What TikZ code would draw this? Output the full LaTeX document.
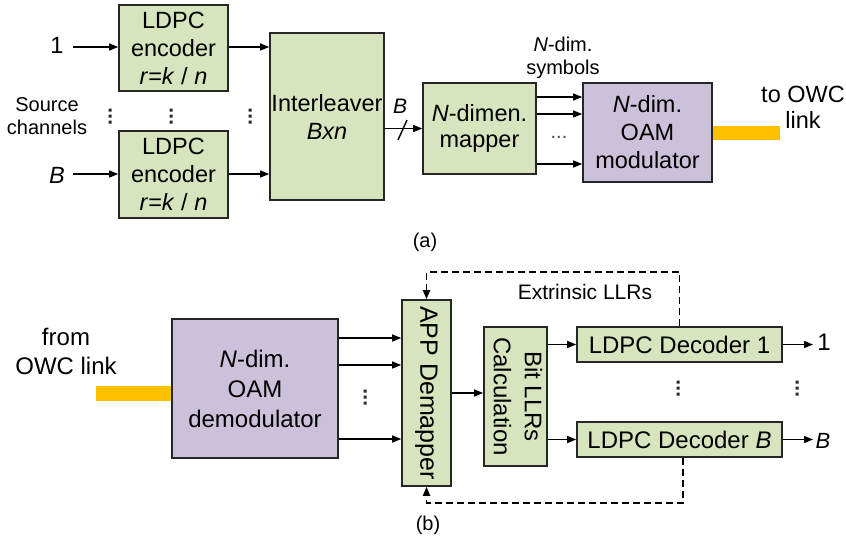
\documentclass[tikz,border=0pt]{standalone}
\usepackage{fontspec}
\setmainfont{Liberation Sans}
\usepackage{graphicx}
\usetikzlibrary{arrows.meta}
\definecolor{boxgreen}{HTML}{D7E4BD}
\definecolor{boxpurple}{HTML}{CCC1DA}
\definecolor{owc}{HTML}{FFC000}
\tikzset{
  box/.style={draw=black!85, line width=1.6pt, fill=boxgreen, inner sep=0pt, align=center, font=\fontsize{23.5}{28}\selectfont},
  pbox/.style={box, fill=boxpurple},
  arr/.style={-{Triangle[length=9pt,width=7pt]}, line width=1.4pt},
  darr/.style={-{Triangle[length=9pt,width=7pt]}, line width=1.8pt, dash pattern=on 7pt off 4pt},
  lbl/.style={inner sep=0pt, align=center, font=\fontsize{23.5}{28}\selectfont},
  small/.style={inner sep=0pt, align=center, font=\fontsize{20}{23}\selectfont},
  dotsnode/.style={inner sep=0pt, font=\fontsize{20}{23}\selectfont},
  bar/.style={fill=owc, inner sep=0pt, draw=none},
  vdotspic/.pic={\fill[black!85] (-1.5,-7.5) rectangle (1.5,-4.5) (-1.5,-1.5) rectangle (1.5,1.5) (-1.5,4.5) rectangle (1.5,7.5);}
}
\begin{document}
\begin{tikzpicture}[x=1pt,y=-1pt]
\useasboundingbox (0,0) rectangle (846,542);
% ---------- (a) transmitter ----------
\node[box, minimum width=109pt, minimum height=86pt] (enc1) at (173.5,48) {LDPC\\encoder\\\textit{r}=\textit{k} / \textit{n}};
\node[box, minimum width=109pt, minimum height=87pt] (encB) at (173.5,174.5) {LDPC\\encoder\\\textit{r}=\textit{k} / \textit{n}};
\node[box, minimum width=114pt, minimum height=167pt] (inter) at (327,116.5) {Interleaver\\\textit{Bxn}};
\node[box, minimum width=113pt, minimum height=91pt, font=\fontsize{23.5}{26}\selectfont] (mapper) at (479.5,128.5) {\textit{N}-dimen.\\mapper};
\node[pbox, minimum width=129pt, minimum height=99pt] (mod) at (647.5,132.5) {\textit{N}-dim.\\OAM\\modulator};

\node[lbl] (src1) at (57,45) {1};
\node[lbl] (srcB) at (57,175) {\textit{B}};
\coordinate (in1) at (73,47);
\coordinate (inB) at (73,174);
\draw[arr] (in1) -- (enc1.west |- in1);
\draw[arr] (inB) -- (encB.west |- inB);
\node[small] (srclbl) at (47,116) {Source\\channels};
\pic at (110,116) {vdotspic};
\pic at (171,116) {vdotspic};
\pic at (250,116) {vdotspic};

\draw[arr] (enc1.east |- in1) -- (inter.west |- in1);
\draw[arr] (encB.east |- inB) -- (inter.west |- inB);

\draw[arr] (inter.east |- mapper.west) -- (mapper.west);
\coordinate (sl) at (402.5,130);
\draw[line width=1.4pt] ([shift={(-4.5,10)}]sl) -- ([shift={(4.5,-10)}]sl);
\node[inner sep=0pt, font=\fontsize{21}{24}\selectfont] (busB) at (400,106) {\textit{B}};

\draw[arr] (mapper.east |- 0,97) -- (mod.west |- 0,97);
\draw[arr] (mapper.east |- 0,114) -- (mod.west |- 0,114);
\draw[arr] (mapper.east |- 0,164) -- (mod.west |- 0,164);
\node[dotsnode, text=black!70] (hd) at (559,137) {...};
\node[small] (sym) at (563,58) {\textit{N}-dim.\\symbols};

\node[bar, minimum width=67pt, minimum height=14pt, anchor=west] (bar1) at (mod.east |- 0,133) {};
\node[lbl, font=\fontsize{23.5}{26}\selectfont] (owc1) at (803,107) {to OWC\\link};
\node[small] (capa) at (425,242) {(a)};

% ---------- (b) receiver ----------
\node[pbox, minimum width=166pt, minimum height=139pt, font=\fontsize{24}{30}\selectfont] (demod) at (255,388.5) {\textit{N}-dim.\\OAM\\demodulator};
\node[bar, minimum width=75pt, minimum height=15pt, anchor=east] (bar2) at (demod.west |- 0,393.5) {};
\node[lbl, font=\fontsize{24}{29}\selectfont] (fromlbl) at (66,351) {from\\OWC link};

\node[box, minimum width=49pt, minimum height=186pt, font=\fontsize{25}{30}\selectfont] (app) at (426.5,393) {\rotatebox{-90}{APP Demapper}};
\node[box, minimum width=63pt, minimum height=139pt, font=\fontsize{24}{31}\selectfont] (bit) at (515.5,396.5) {\rotatebox{-90}{\begin{tabular}{@{}c@{}}Bit LLRs\\Calculation\end{tabular}}};
\node[box, minimum width=205pt, minimum height=35pt, font=\fontsize{24}{28}\selectfont] (dec1) at (679.5,344.5) {LDPC Decoder 1};
\node[box, minimum width=205pt, minimum height=35pt, font=\fontsize{24}{28}\selectfont] (decB) at (679.5,439.5) {LDPC Decoder \textit{B}};

\draw[arr] (demod.east |- 0,338) -- (app.west |- 0,338);
\draw[arr] (demod.east |- 0,365) -- (app.west |- 0,365);
\draw[arr] (demod.east |- 0,439) -- (app.west |- 0,439);
\pic at (365,397) {vdotspic};

\draw[arr] (app.east |- 0,393) -- (bit.west |- 0,393);
\draw[arr] (bit.east |- dec1.west) -- (dec1.west);
\draw[arr] (bit.east |- decB.west) -- (decB.west);

\coordinate (out1) at (813,344.5);
\coordinate (outB) at (813,439.5);
\draw[arr] (dec1.east) -- (out1);
\draw[arr] (decB.east) -- (outB);
\node[lbl, font=\fontsize{24}{28}\selectfont] (o1) at (824,342) {1};
\node[lbl, font=\fontsize{22}{26}\selectfont] (oB) at (823,441) {\textit{B}};
\pic at (678,388) {vdotspic};
\pic at (797,388) {vdotspic};

\draw[darr] (dec1.north) -- ++(0,-54) -| (app.north);
\draw[darr] ([xshift=3.5pt]decB.south) -- ++(0,45) -| (app.south);
\node[inner sep=0pt, font=\fontsize{21}{24}\selectfont] (extr) at (585,292) {Extrinsic LLRs};
\node[small] (capb) at (428,525) {(b)};
\end{tikzpicture}
\end{document}
